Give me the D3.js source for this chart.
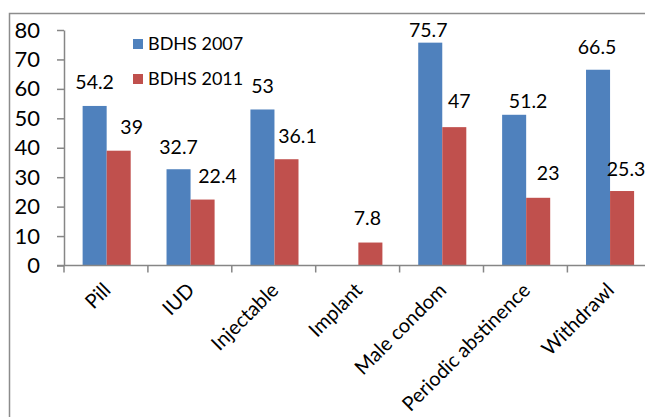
<!DOCTYPE html>
<html>
<head>
<meta charset="utf-8">
<script src="https://cdn.jsdelivr.net/npm/d3@7"></script>
<style>
  body { margin: 0; background: #fff; }
  svg { display: block; }
  text { font-family: Lato, "Open Sans", sans-serif; fill: #000; }
  .axis path, .axis line { stroke: #868686; }
</style>
</head>
<body>
<div id="chart"></div>
<script>
// data
var methods = ["Pill", "IUD", "Injectable", "Implant", "Male condom", "Periodic abstinence", "Withdrawl"];
var series = ["BDHS 2007", "BDHS 2011"];
var bdhs2007 = [54.2, 32.7, 53, null, 75.7, 51.2, 66.5];
var bdhs2011 = [39, 22.4, 36.1, 7.8, 47, 23, 25.3];
var yTicks = [0, 10, 20, 30, 40, 50, 60, 70, 80];

// the labels were hand placed in the original, these are the nudges (px)
var nudge2007 = [[0, -24], [0, -22], [0, -23], [0, 0], [-2, -12], [14, -14], [-1, -23]];
var nudge2011 = [[13, -24], [15, -23], [11, -23], [-3, -24], [5, -26], [10, -25], [4, -22]];

var colors = { "BDHS 2007": "#4f81bd", "BDHS 2011": "#c0504d" };

var svgWidth = 645, svgHeight = 417;
var margin = { top: 30, left: 64 };
var plotBottom = 265.5;
var bandW = 83.9;

var svg = d3.select("#chart").append("svg")
  .attr("width", svgWidth)
  .attr("height", svgHeight);

// outer chart frame (cut off at right and bottom like the source)
svg.append("rect")
  .attr("x", 9.5).attr("y", 13.5)
  .attr("width", 700).attr("height", 500)
  .attr("fill", "none")
  .attr("stroke", "#8c8c8c")
  .attr("stroke-width", 1.5);

var x0 = d3.scaleBand()
  .domain(methods)
  .range([margin.left, margin.left + bandW * methods.length])
  .padding(0);

var x1 = d3.scaleBand()
  .domain(series)
  .range([bandW * 0.222, bandW * 0.795]);

var y = d3.scaleLinear()
  .domain([0, 80])
  .range([plotBottom, margin.top]);

// rows: one per method
var rows = methods.map(function(m, i) {
  return {
    method: m,
    values: [
      { key: series[0], value: bdhs2007[i], nudge: nudge2007[i] },
      { key: series[1], value: bdhs2011[i], nudge: nudge2011[i] }
    ]
  };
});

// bars
var groups = svg.append("g").selectAll("g")
  .data(rows)
  .enter()
  .append("g")
  .attr("transform", d => `translate(${x0(d.method)},0)`);

groups.selectAll("rect")
  .data(d => d.values.filter(v => v.value != null))
  .enter()
  .append("rect")
  .attr("x", d => x1(d.key))
  .attr("width", x1.bandwidth())
  .attr("y", d => y(d.value))
  .attr("height", d => y(0) - y(d.value))
  .attr("fill", d => colors[d.key]);

// value labels
groups.selectAll("text")
  .data(d => d.values.filter(v => v.value != null))
  .enter()
  .append("text")
  .attr("x", d => x1(d.key) + x1.bandwidth() / 2 + d.nudge[0])
  .attr("y", d => y(d.value) + d.nudge[1])
  .attr("dy", "0.35em")
  .attr("text-anchor", "middle")
  .attr("font-size", 19.5)
  .text(d => d.value);

// y axis
var yAxis = svg.append("g")
  .attr("class", "axis")
  .attr("transform", `translate(${margin.left},0)`)
  .call(d3.axisLeft(y).tickValues(yTicks).tickSize(7).tickSizeOuter(0).tickPadding(17));
yAxis.selectAll("text").attr("font-size", 22).attr("font-family", "Lato, sans-serif");
yAxis.select(".domain").attr("stroke-width", 1.5);
yAxis.selectAll("line").attr("stroke-width", 1.5);

// x axis: line with tick marks between categories
var xAxis = svg.append("g").attr("class", "axis");
xAxis.append("line")
  .attr("x1", margin.left - 7).attr("x2", x0.range()[1])
  .attr("y1", plotBottom).attr("y2", plotBottom)
  .attr("stroke-width", 1.5);
xAxis.selectAll(".bt")
  .data(methods)
  .enter()
  .append("line")
  .attr("class", "bt")
  .attr("x1", d => x0(d)).attr("x2", d => x0(d))
  .attr("y1", plotBottom).attr("y2", plotBottom + 7)
  .attr("stroke-width", 1.5);

xAxis.selectAll("text")
  .data(methods)
  .enter()
  .append("text")
  .attr("text-anchor", "end")
  .attr("font-size", 20)
  .attr("transform", d => `translate(${x0(d) + x0.bandwidth() / 2 + 6},${plotBottom + 26}) rotate(-45)`)
  .text(d => d);

// legend
var legend = svg.append("g").selectAll("g")
  .data(series)
  .enter()
  .append("g")
  .attr("transform", (d, i) => `translate(133,${39 + i * 35})`);

legend.append("rect")
  .attr("width", 10).attr("height", 10)
  .attr("fill", d => colors[d]);

legend.append("text")
  .attr("x", 15).attr("y", 5)
  .attr("dy", "0.35em")
  .attr("font-size", 18)
  .text(d => d);
</script>
</body>
</html>
